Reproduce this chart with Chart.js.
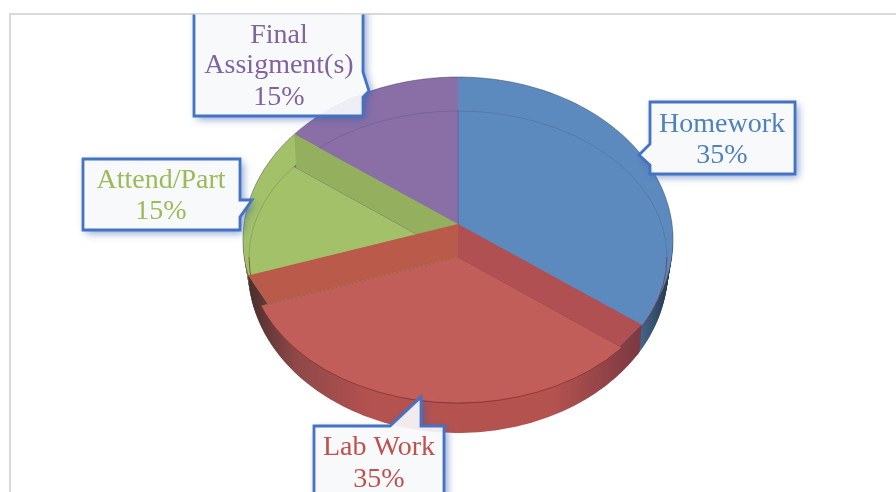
<!DOCTYPE html>
<html>
<head>
<meta charset="utf-8">
<style>
  html, body { margin: 0; padding: 0; background: #fff; overflow: hidden; }
</style>
<script src="https://cdn.jsdelivr.net/npm/chart.js@4/dist/chart.umd.min.js"></script>
</head>
<body>
<canvas id="pie" width="896" height="492"></canvas>
<script>
const labels = ["Homework", "Lab Work", "Attend/Part", ["Final", "Assigment(s)"]];
const percents = [35, 35, 15, 15];
const faceColors = ["#5C8ABF", "#C25E59", "#A2C168", "#8A6EA6"];
const edgeColors = ["rgba(60,100,150,0.55)", "rgba(150,60,55,0.75)", "rgba(120,150,70,0.55)", "rgba(100,75,130,0.5)"];
const textColors = ["#4F81BD", "#C0504D", "#9BBB59", "#8064A2"];

// the tilted disc: far rim with perspective, near cap, and how far the wall drops
const rim = { cx: 458, cy: 224, X: 214, Y: 161.4, k: -0.098 };
const cap = { cx: 458, cy: 257, rx: 209, ry: 146 };
const capRays = { cx: 458, cy: 257, X: 200, Y: 152, k: 0 };
const wallFoot = { cx: 458, cy: 270, rx: 210, ry: 163 };
const wallDepth = 30;
const wallNarrowing = 5;

// callout boxes, same order as labels
const boxes = [
  { x: 650, y: 102, w: 145, h: 72, tip: [[650, 144], [639, 155], [650, 165]], tx: 722, ty: [125, 156] },
  { x: 314, y: 426, w: 130, h: 90, tip: [[390, 426], [421, 397], [421, 426]], tx: 379, ty: [448, 480] },
  { x: 83, y: 159, w: 157, h: 71, tip: [[240, 200], [252, 200], [240, 217]], tx: 161, ty: [181, 212] },
  { x: 194, y: 6, w: 169, h: 110, tip: [[363, 72], [369, 91], [363, 97]], tx: 279, ty: [36, 66, 98] },
];

const rimPoint = (a, v, dy = 0) => {
  const w = 1 + v.k * Math.sin(a);
  return [v.cx + v.X * Math.cos(a) / w, v.cy + dy + v.Y * Math.sin(a) / w];
};

const arcTrace = (ctx, arc, v, dy = 0) => {
  const steps = 90;
  for (let i = 0; i <= steps; i++) {
    const a = arc.startAngle + (arc.endAngle - arc.startAngle) * i / steps;
    const p = rimPoint(a, v, dy);
    ctx.lineTo(p[0], p[1]);
  }
};

const slicePath = (ctx, arc, v, dy = 0) => {
  ctx.beginPath();
  ctx.moveTo(v.cx, v.cy + dy);
  arcTrace(ctx, arc, v, dy);
  ctx.closePath();
};

const wallFill = (ctx, i) => {
  const g = ctx.createLinearGradient(243, 0, 673, 0);
  if (i === 0) {
    g.addColorStop(0.8, "#5F8DBF");
    g.addColorStop(0.92, "#45698F");
    g.addColorStop(1, "#1F3348");
  } else if (i === 1) {
    g.addColorStop(0.02, "#4E3030");
    g.addColorStop(0.12, "#8E4848");
    g.addColorStop(0.3, "#B45250");
    g.addColorStop(0.72, "#B45250");
    g.addColorStop(0.92, "#7C3A42");
  } else {
    g.addColorStop(0, "#75874C");
    g.addColorStop(0.06, "#85994F");
  }
  return g;
};

const bandPath = (ctx, angle) => {
  const a = rimPoint(angle, rim);
  const b = rimPoint(angle, capRays);
  ctx.beginPath();
  ctx.moveTo(rim.cx, rim.cy);
  ctx.lineTo(a[0], a[1]);
  ctx.lineTo(b[0], b[1]);
  ctx.lineTo(capRays.cx, capRays.cy);
  ctx.closePath();
};

// the dark wedge where a cut face meets the outer wall
const cornerPath = (ctx, angle) => {
  const a = rimPoint(angle, rim);
  const b = rimPoint(angle, capRays);
  ctx.beginPath();
  ctx.moveTo(a[0], a[1]);
  ctx.lineTo(b[0], b[1]);
  ctx.lineTo(capRays.cx + (b[0] - capRays.cx) * 1.12, capRays.cy + (b[1] - capRays.cy) * 1.12);
  ctx.closePath();
};

const boxPath = (ctx, b) => {
  ctx.moveTo(b.x, b.y);
  const onTop = b.tip[0][1] === b.y;
  if (onTop) b.tip.forEach((p) => ctx.lineTo(p[0], p[1]));
  ctx.lineTo(b.x + b.w, b.y);
  if (!onTop && b.tip[0][0] === b.x + b.w) b.tip.forEach((p) => ctx.lineTo(p[0], p[1]));
  ctx.lineTo(b.x + b.w, b.y + b.h);
  ctx.lineTo(b.x, b.y + b.h);
  if (!onTop && b.tip[0][0] === b.x) b.tip.slice().reverse().forEach((p) => ctx.lineTo(p[0], p[1]));
  ctx.closePath();
};

const drawBox = (ctx, b, i) => {
  ctx.save();
  ctx.beginPath();
  ctx.rect(11, 14.5, 885, 478);
  ctx.clip();

  // soft shadow, only outside the box so the pie still shows through the fill
  ctx.save();
  ctx.beginPath();
  ctx.rect(0, 0, 896, 492);
  boxPath(ctx, b);
  ctx.clip("evenodd");
  ctx.beginPath();
  boxPath(ctx, b);
  ctx.shadowColor = "rgba(50,90,170,0.6)";
  ctx.shadowBlur = 8;
  ctx.shadowOffsetX = 3;
  ctx.shadowOffsetY = 3;
  ctx.fillStyle = "#fff";
  ctx.fill();
  ctx.restore();

  ctx.beginPath();
  boxPath(ctx, b);
  ctx.fillStyle = "rgba(247,248,251,0.92)";
  ctx.fill();
  ctx.lineWidth = 2.8;
  ctx.strokeStyle = "#4472C4";
  ctx.lineJoin = "miter";
  ctx.stroke();

  const lines = [].concat(labels[i], percents[i] + "%");
  ctx.fillStyle = textColors[i];
  ctx.font = "28px 'Liberation Serif'";
  ctx.textAlign = "center";
  ctx.textBaseline = "middle";
  lines.forEach((t, n) => ctx.fillText(t, b.tx, b.ty[n]));
  ctx.restore();
};

const discPlugin = {
  id: "disc",
  beforeDraw(chart) {
    const ctx = chart.ctx;
    ctx.save();
    ctx.strokeStyle = "#D9D9D9";
    ctx.lineWidth = 2;
    ctx.beginPath();
    ctx.moveTo(10, 492);
    ctx.lineTo(10, 14);
    ctx.lineTo(896, 14);
    ctx.stroke();
    ctx.restore();
  },
  beforeDatasetsDraw(chart) {
    const ctx = chart.ctx;
    const arcs = chart.getDatasetMeta(0).data;

    // wall first, back slices before front ones; it narrows as it drops
    [3, 2, 0, 1].forEach((i) => {
      ctx.fillStyle = wallFill(ctx, i);
      for (let dy = wallDepth; dy > 0; dy -= 2) {
        const v = Object.assign({}, rim, { X: rim.X - wallNarrowing * dy / wallDepth });
        slicePath(ctx, arcs[i], v, dy);
        ctx.fill();
      }
    });

    // far rim face, edged only along the outside
    [3, 2, 0, 1].forEach((i) => {
      slicePath(ctx, arcs[i], rim);
      ctx.fillStyle = faceColors[i];
      ctx.fill();
      ctx.beginPath();
      arcTrace(ctx, arcs[i], rim);
      ctx.lineWidth = 1;
      ctx.strokeStyle = "rgba(50,60,80,0.45)";
      ctx.stroke();
    });

    // library arcs become the near cap: oversized, then trimmed to the cap ellipse
    const R = arcs[0].outerRadius;
    const grow = 1.1;
    ctx.save();
    ctx.beginPath();
    ctx.ellipse(cap.cx, cap.cy, cap.rx, cap.ry, 0, 0, Math.PI * 2);
    ctx.clip();
    ctx.translate(capRays.cx, capRays.cy);
    ctx.scale(capRays.X * grow / R, capRays.Y * grow / R);
    ctx.translate(-arcs[0].x, -arcs[0].y);
  },
  afterDatasetsDraw(chart) {
    const ctx = chart.ctx;
    ctx.restore();
    const arcs = chart.getDatasetMeta(0).data;

    // faint outline of the cap, darker along the front
    ctx.lineWidth = 1;
    ctx.strokeStyle = "rgba(60,70,90,0.22)";
    ctx.beginPath();
    ctx.ellipse(cap.cx, cap.cy, cap.rx, cap.ry, 0, Math.PI, Math.PI * 2);
    ctx.stroke();
    ctx.strokeStyle = "rgba(130,45,45,0.7)";
    ctx.beginPath();
    ctx.ellipse(cap.cx, cap.cy, cap.rx, cap.ry, 0, 0, Math.PI);
    ctx.stroke();

    // cut faces seen between the rim and the cap
    bandPath(ctx, arcs[2].endAngle);
    ctx.fillStyle = "#94AF5D";
    ctx.fill();
    bandPath(ctx, arcs[1].endAngle);
    ctx.fillStyle = "#B95A4B";
    ctx.fill();
    bandPath(ctx, arcs[1].startAngle);
    ctx.fillStyle = "#B05052";
    ctx.fill();

    ctx.save();
    ctx.beginPath();
    ctx.ellipse(wallFoot.cx, wallFoot.cy, wallFoot.rx, wallFoot.ry, 0, 0, Math.PI * 2);
    ctx.clip();
    ctx.fillStyle = wallFill(ctx, 1);
    cornerPath(ctx, arcs[1].startAngle);
    ctx.fill();
    cornerPath(ctx, arcs[1].endAngle);
    ctx.fill();
    ctx.restore();

    boxes.forEach((b, i) => drawBox(ctx, b, i));
  },
};

new Chart(document.getElementById("pie"), {
  type: "pie",
  data: {
    labels,
    datasets: [{
      data: percents,
      backgroundColor: faceColors,
      borderColor: edgeColors,
      borderWidth: 1,
      clip: false,
    }],
  },
  options: {
    responsive: false,
    animation: false,
    plugins: { legend: { display: false }, tooltip: { enabled: false } },
  },
  plugins: [discPlugin],
});
</script>
</body>
</html>
